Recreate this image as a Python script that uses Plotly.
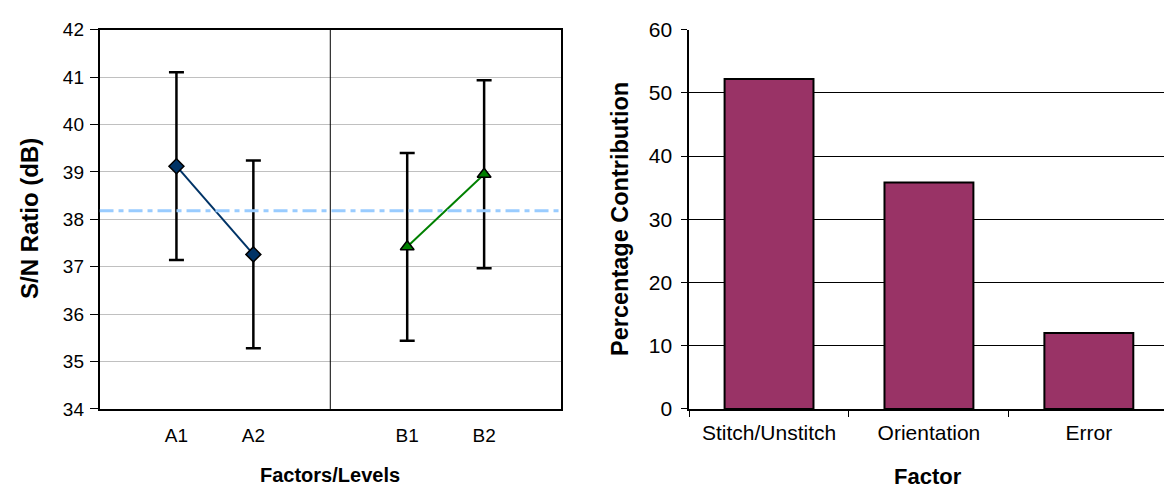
import plotly.graph_objects as go

# ---------------- data ----------------
level_labels = ["A1", "A2", "B1", "B2"]
level_pos = [1, 2, 4, 5]
sn_a = [39.12, 37.26]
sn_b = [37.42, 38.95]
err_a = [1.98, 1.98]
err_b = [1.98, 1.98]
sn_mean = 38.18

factors = ["Stitch/Unstitch", "Orientation", "Error"]
contribution = [52.2, 35.8, 12.0]

FONT = "Arial, Liberation Sans, sans-serif"
TICK_L = 19
TICK_R = 21

fig = go.Figure()

# Left panel: factor A
fig.add_trace(go.Scatter(
    x=level_pos[:2], y=sn_a, mode="lines+markers",
    line=dict(color="#003366", width=2),
    marker=dict(symbol="diamond", size=11.5, color="#003366",
                line=dict(color="black", width=1.5)),
    error_y=dict(type="data", array=err_a, visible=True, color="black",
                 thickness=2.5, width=7.5),
    xaxis="x", yaxis="y", showlegend=False))

# Left panel: factor B
fig.add_trace(go.Scatter(
    x=level_pos[2:], y=sn_b, mode="lines+markers",
    line=dict(color="#008000", width=2),
    marker=dict(symbol="triangle-up", size=12, color="#008000",
                line=dict(color="black", width=1.5)),
    error_y=dict(type="data", array=err_b, visible=True, color="black",
                 thickness=2.5, width=7.5),
    xaxis="x", yaxis="y", showlegend=False))

# Right panel: bars
fig.add_trace(go.Bar(
    x=factors, y=contribution,
    marker=dict(color="#993366", line=dict(color="black", width=2)),
    xaxis="x2", yaxis="y2", showlegend=False))

# overall mean line and divider between factors
fig.add_shape(type="line", xref="x", yref="y", x0=0, x1=6.02, y0=sn_mean, y1=sn_mean,
              line=dict(color="#99CCFF", width=3, dash="14px,5px,5px,5px"), layer="above")
fig.add_shape(type="line", xref="x", yref="y", x0=3, x1=3, y0=34, y1=42,
              line=dict(color="black", width=1))

fig.update_layout(
    width=1164, height=499,
    margin=dict(l=0, r=0, t=0, b=0),
    paper_bgcolor="white", plot_bgcolor="white",
    font=dict(family=FONT, size=TICK_L, color="black"),
    bargap=0.444,
    xaxis=dict(domain=[0.0855, 0.482], range=[0, 6], tickvals=level_pos, ticktext=level_labels,
               showgrid=False, zeroline=False, showline=True, linecolor="black", linewidth=1.5,
               mirror=True, ticks="", tickfont=dict(size=TICK_L), ticklabelstandoff=8),
    yaxis=dict(domain=[0.166, 0.963], range=[34, 42], dtick=1, showgrid=True,
               gridcolor="#c0c0c0", gridwidth=1, zeroline=False, showline=True,
               linecolor="black", linewidth=1.5, mirror=True, ticks="outside", ticklen=8,
               tickcolor="black", tickfont=dict(size=TICK_L), ticklabelstandoff=2),
    xaxis2=dict(domain=[0.592, 1.0], range=[-0.5, 2.47], type="category",
                showgrid=False, zeroline=False, showline=True, linecolor="black", linewidth=1.5,
                ticks="outside", tickson="boundaries", ticklen=6, tickcolor="black",
                tickfont=dict(size=TICK_R), anchor="y2", ticklabelstandoff=4),
    yaxis2=dict(domain=[0.166, 0.963], range=[0, 60], dtick=10, showgrid=True,
                gridcolor="black", gridwidth=1, zeroline=False, showline=True,
                linecolor="black", linewidth=1.5, ticks="outside", ticklen=6,
                tickcolor="black", tickfont=dict(size=TICK_R), anchor="x2", ticklabelstandoff=5),
    annotations=[
        dict(text="<b>S/N Ratio (dB)</b>", xref="paper", yref="paper", x=30/1164, y=1-217/499,
             textangle=-90, showarrow=False, font=dict(size=24), xanchor="center", yanchor="middle"),
        dict(text="<b>Percentage Contribution</b>", xref="paper", yref="paper", x=620/1164, y=1-217/499,
             textangle=-90, showarrow=False, font=dict(size=23.5), xanchor="center", yanchor="middle"),
        dict(text="<b>Factors/Levels</b>", xref="paper", yref="paper", x=330/1164, y=1-485/499,
             showarrow=False, font=dict(size=20), xanchor="center", yanchor="middle"),
        dict(text="<b>Factor</b>", xref="paper", yref="paper", x=928/1164, y=1-487/499,
             showarrow=False, font=dict(size=22), xanchor="center", yanchor="middle"),
    ],
)

fig.write_html("out.html")
